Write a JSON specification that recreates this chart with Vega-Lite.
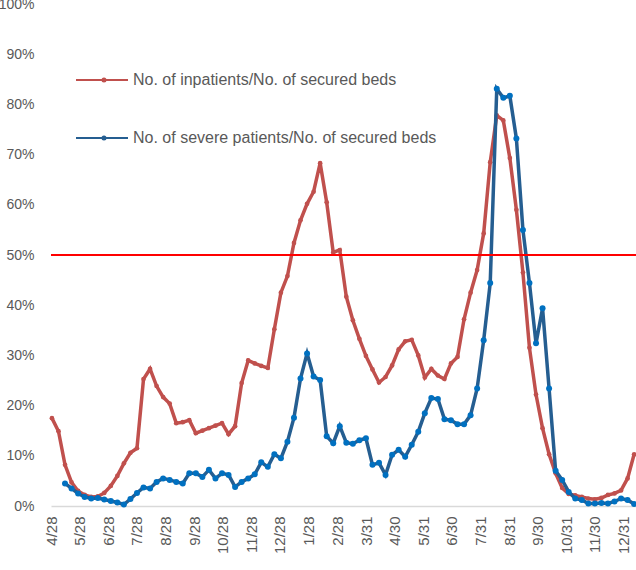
{
  "$schema": "https://vega.github.io/schema/vega-lite/v6.json",
  "width": 585,
  "height": 502,
  "autosize": {"type": "none"},
  "padding": {"left": 51, "top": 4, "right": 0, "bottom": 64},
  "background": "white",
  "config": {
    "view": {"stroke": null},
    "font": "Liberation Sans",
    "axis": {"title": null, "grid": false, "ticks": false, "labelColor": "#595959", "labelFontSize": 14, "labelFont": "Liberation Sans"},
    "axisX": {"labelOverlap": false, "labelFontSize": 15}
  },
  "data": {"values": [
    {"date": "2020-04-28", "inpatients": 17.5, "severe": null},
    {"date": "2020-05-05", "inpatients": 14.9, "severe": null},
    {"date": "2020-05-12", "inpatients": 8.2, "severe": 4.5},
    {"date": "2020-05-19", "inpatients": 4.7, "severe": 3.5},
    {"date": "2020-05-26", "inpatients": 3.0, "severe": 2.5},
    {"date": "2020-06-02", "inpatients": 2.2, "severe": 1.8},
    {"date": "2020-06-09", "inpatients": 1.8, "severe": 1.5},
    {"date": "2020-06-16", "inpatients": 1.9, "severe": 1.6},
    {"date": "2020-06-23", "inpatients": 2.6, "severe": 1.3},
    {"date": "2020-06-30", "inpatients": 4.0, "severe": 1.0},
    {"date": "2020-07-07", "inpatients": 6.0, "severe": 0.7},
    {"date": "2020-07-14", "inpatients": 8.5, "severe": 0.3},
    {"date": "2020-07-21", "inpatients": 10.6, "severe": 1.4},
    {"date": "2020-07-28", "inpatients": 11.5, "severe": 2.6},
    {"date": "2020-08-04", "inpatients": 25.3, "severe": 3.7},
    {"date": "2020-08-11", "inpatients": 27.3, "severe": 3.5},
    {"date": "2020-08-18", "inpatients": 23.9, "severe": 4.8},
    {"date": "2020-08-25", "inpatients": 21.7, "severe": 5.5},
    {"date": "2020-09-01", "inpatients": 20.4, "severe": 5.2},
    {"date": "2020-09-08", "inpatients": 16.5, "severe": 4.8},
    {"date": "2020-09-15", "inpatients": 16.7, "severe": 4.5},
    {"date": "2020-09-22", "inpatients": 17.1, "severe": 6.5},
    {"date": "2020-09-29", "inpatients": 14.5, "severe": 6.5},
    {"date": "2020-10-06", "inpatients": 15.0, "severe": 5.8},
    {"date": "2020-10-13", "inpatients": 15.5, "severe": 7.2},
    {"date": "2020-10-20", "inpatients": 16.0, "severe": 5.5},
    {"date": "2020-10-27", "inpatients": 16.5, "severe": 6.5},
    {"date": "2020-11-03", "inpatients": 14.3, "severe": 6.2},
    {"date": "2020-11-10", "inpatients": 15.9, "severe": 3.8},
    {"date": "2020-11-17", "inpatients": 24.5, "severe": 4.8},
    {"date": "2020-11-24", "inpatients": 29.0, "severe": 5.5},
    {"date": "2020-12-01", "inpatients": 28.4, "severe": 6.3},
    {"date": "2020-12-08", "inpatients": 27.9, "severe": 8.7},
    {"date": "2020-12-15", "inpatients": 27.5, "severe": 7.8},
    {"date": "2020-12-22", "inpatients": 35.2, "severe": 10.3},
    {"date": "2020-12-29", "inpatients": 42.5, "severe": 9.5},
    {"date": "2021-01-05", "inpatients": 45.8, "severe": 12.8},
    {"date": "2021-01-12", "inpatients": 52.4, "severe": 17.6},
    {"date": "2021-01-19", "inpatients": 56.9, "severe": 25.4},
    {"date": "2021-01-26", "inpatients": 60.2, "severe": 30.4},
    {"date": "2021-02-02", "inpatients": 62.6, "severe": 25.8},
    {"date": "2021-02-09", "inpatients": 68.3, "severe": 25.1},
    {"date": "2021-02-16", "inpatients": 60.5, "severe": 13.9},
    {"date": "2021-02-23", "inpatients": 50.5, "severe": 12.5},
    {"date": "2021-03-02", "inpatients": 51.0, "severe": 15.9},
    {"date": "2021-03-09", "inpatients": 41.7, "severe": 12.6},
    {"date": "2021-03-16", "inpatients": 37.0, "severe": 12.4},
    {"date": "2021-03-23", "inpatients": 33.3, "severe": 13.1},
    {"date": "2021-03-30", "inpatients": 29.9, "severe": 13.5},
    {"date": "2021-04-06", "inpatients": 27.2, "severe": 8.2},
    {"date": "2021-04-13", "inpatients": 24.6, "severe": 8.6},
    {"date": "2021-04-20", "inpatients": 25.7, "severe": 6.2},
    {"date": "2021-04-27", "inpatients": 28.0, "severe": 10.2},
    {"date": "2021-05-04", "inpatients": 31.2, "severe": 11.2},
    {"date": "2021-05-11", "inpatients": 32.8, "severe": 9.8},
    {"date": "2021-05-18", "inpatients": 33.1, "severe": 12.2},
    {"date": "2021-05-25", "inpatients": 30.0, "severe": 14.8},
    {"date": "2021-06-01", "inpatients": 25.6, "severe": 18.5},
    {"date": "2021-06-08", "inpatients": 27.3, "severe": 21.5},
    {"date": "2021-06-15", "inpatients": 26.0, "severe": 21.3},
    {"date": "2021-06-22", "inpatients": 25.3, "severe": 17.3},
    {"date": "2021-06-29", "inpatients": 28.4, "severe": 17.1},
    {"date": "2021-07-06", "inpatients": 29.7, "severe": 16.3},
    {"date": "2021-07-13", "inpatients": 37.2, "severe": 16.3},
    {"date": "2021-07-20", "inpatients": 42.5, "severe": 18.1},
    {"date": "2021-07-27", "inpatients": 47.0, "severe": 23.4},
    {"date": "2021-08-03", "inpatients": 54.3, "severe": 33.0},
    {"date": "2021-08-10", "inpatients": 68.5, "severe": 44.4},
    {"date": "2021-08-17", "inpatients": 77.8, "severe": 83.1},
    {"date": "2021-08-24", "inpatients": 76.8, "severe": 81.3},
    {"date": "2021-08-31", "inpatients": 69.3, "severe": 81.7},
    {"date": "2021-09-07", "inpatients": 59.0, "severe": 73.2},
    {"date": "2021-09-14", "inpatients": 46.5, "severe": 55.0},
    {"date": "2021-09-21", "inpatients": 31.5, "severe": 44.4},
    {"date": "2021-09-28", "inpatients": 22.2, "severe": 32.4},
    {"date": "2021-10-05", "inpatients": 15.5, "severe": 39.4},
    {"date": "2021-10-12", "inpatients": 10.3, "severe": 23.4},
    {"date": "2021-10-19", "inpatients": 6.5, "severe": 7.0},
    {"date": "2021-10-26", "inpatients": 3.6, "severe": 5.2},
    {"date": "2021-11-02", "inpatients": 2.4, "severe": 2.8},
    {"date": "2021-11-09", "inpatients": 2.1, "severe": 1.5},
    {"date": "2021-11-16", "inpatients": 1.8, "severe": 1.2},
    {"date": "2021-11-23", "inpatients": 1.5, "severe": 0.5},
    {"date": "2021-11-30", "inpatients": 1.35, "severe": 0.5},
    {"date": "2021-12-07", "inpatients": 1.6, "severe": 0.6},
    {"date": "2021-12-14", "inpatients": 2.2, "severe": 0.5},
    {"date": "2021-12-21", "inpatients": 2.5, "severe": 0.9},
    {"date": "2021-12-28", "inpatients": 3.1, "severe": 1.5},
    {"date": "2022-01-04", "inpatients": 5.5, "severe": 1.2},
    {"date": "2022-01-11", "inpatients": 10.3, "severe": 0.4}
  ]},
  "layer": [
    {
      "encoding": {
        "x": {"field": "date", "type": "temporal",
          "scale": {"type": "utc", "domain": [{"year": 2020, "month": 4, "date": 27, "utc": true}, {"year": 2022, "month": 1, "date": 13, "utc": true}]},
          "axis": {"domain": true, "domainColor": "#D9D9D9", "domainWidth": 1.5, "labelAngle": 270, "labelPadding": 10, "labelOverlap": false, "labelFlush": false, "labelBound": false, "labelSeparation": 0,
            "labelExpr": "utcFormat(datum.value, '%-m/%-d')",
            "values": [
              {"year": 2020, "month": 4, "date": 28, "utc": true},
              {"year": 2020, "month": 5, "date": 28, "utc": true},
              {"year": 2020, "month": 6, "date": 28, "utc": true},
              {"year": 2020, "month": 7, "date": 28, "utc": true},
              {"year": 2020, "month": 8, "date": 28, "utc": true},
              {"year": 2020, "month": 9, "date": 28, "utc": true},
              {"year": 2020, "month": 10, "date": 28, "utc": true},
              {"year": 2020, "month": 11, "date": 28, "utc": true},
              {"year": 2020, "month": 12, "date": 28, "utc": true},
              {"year": 2021, "month": 1, "date": 28, "utc": true},
              {"year": 2021, "month": 2, "date": 28, "utc": true},
              {"year": 2021, "month": 3, "date": 31, "utc": true},
              {"year": 2021, "month": 4, "date": 30, "utc": true},
              {"year": 2021, "month": 5, "date": 31, "utc": true},
              {"year": 2021, "month": 6, "date": 30, "utc": true},
              {"year": 2021, "month": 7, "date": 31, "utc": true},
              {"year": 2021, "month": 8, "date": 31, "utc": true},
              {"year": 2021, "month": 9, "date": 30, "utc": true},
              {"year": 2021, "month": 10, "date": 31, "utc": true},
              {"year": 2021, "month": 11, "date": 30, "utc": true},
              {"year": 2021, "month": 12, "date": 31, "utc": true}
            ]}}
      },
      "layer": [
        {
          "mark": {"type": "line", "strokeWidth": 3.5},
          "encoding": {
            "y": {"field": "inpatients", "type": "quantitative",
              "scale": {"domain": [0, 100], "nice": false, "zero": true},
              "axis": {"domain": false, "values": [0, 10, 20, 30, 40, 50, 60, 70, 80, 90, 100], "labelExpr": "datum.value + '%'", "labelPadding": 17}},
            "color": {"datum": "inpatients", "type": "nominal",
              "scale": {"domain": ["inpatients", "severe"], "range": ["#C0504D", "#255E91"]},
              "legend": {"orient": "none", "legendX": 24, "legendY": 49, "padding": 0, "rowPadding": 23, "title": null, "direction": "vertical",
                "symbolType": "M-1,0L1,0M0.019,0A0.058,0.058,0,1,0,0.135,0A0.058,0.058,0,1,0,0.019,0M0.058,0A0.019,0.019,0,1,0,0.096,0A0.019,0.019,0,1,0,0.058,0",
                "symbolSize": 2704, "symbolStrokeWidth": 2, "labelOffset": 4, "labelFontSize": 16, "labelColor": "#595959", "labelFont": "Liberation Sans", "labelLimit": 400,
                "labelExpr": "datum.label == 'inpatients' ? 'No. of inpatients/No. of secured beds' : 'No. of severe patients/No. of secured beds'"}}
          }
        },
        {
          "mark": {"type": "point", "filled": true, "color": "#C0504D", "size": 22, "opacity": 1},
          "encoding": {
            "y": {"field": "inpatients", "type": "quantitative"}
          }
        },
        {
          "mark": {"type": "line", "strokeWidth": 3.5},
          "encoding": {
            "y": {"field": "severe", "type": "quantitative"},
            "color": {"datum": "severe", "type": "nominal"}
          }
        },
        {
          "mark": {"type": "point", "filled": true, "color": "#0070C0", "size": 36, "opacity": 1},
          "encoding": {
            "y": {"field": "severe", "type": "quantitative"}
          }
        }
      ]
    },
    {
      "data": {"values": [{"threshold": 50}]},
      "mark": {"type": "rule", "color": "#FF0000", "strokeWidth": 2},
      "encoding": {
        "y": {"field": "threshold", "type": "quantitative"}
      }
    }
  ]
}
